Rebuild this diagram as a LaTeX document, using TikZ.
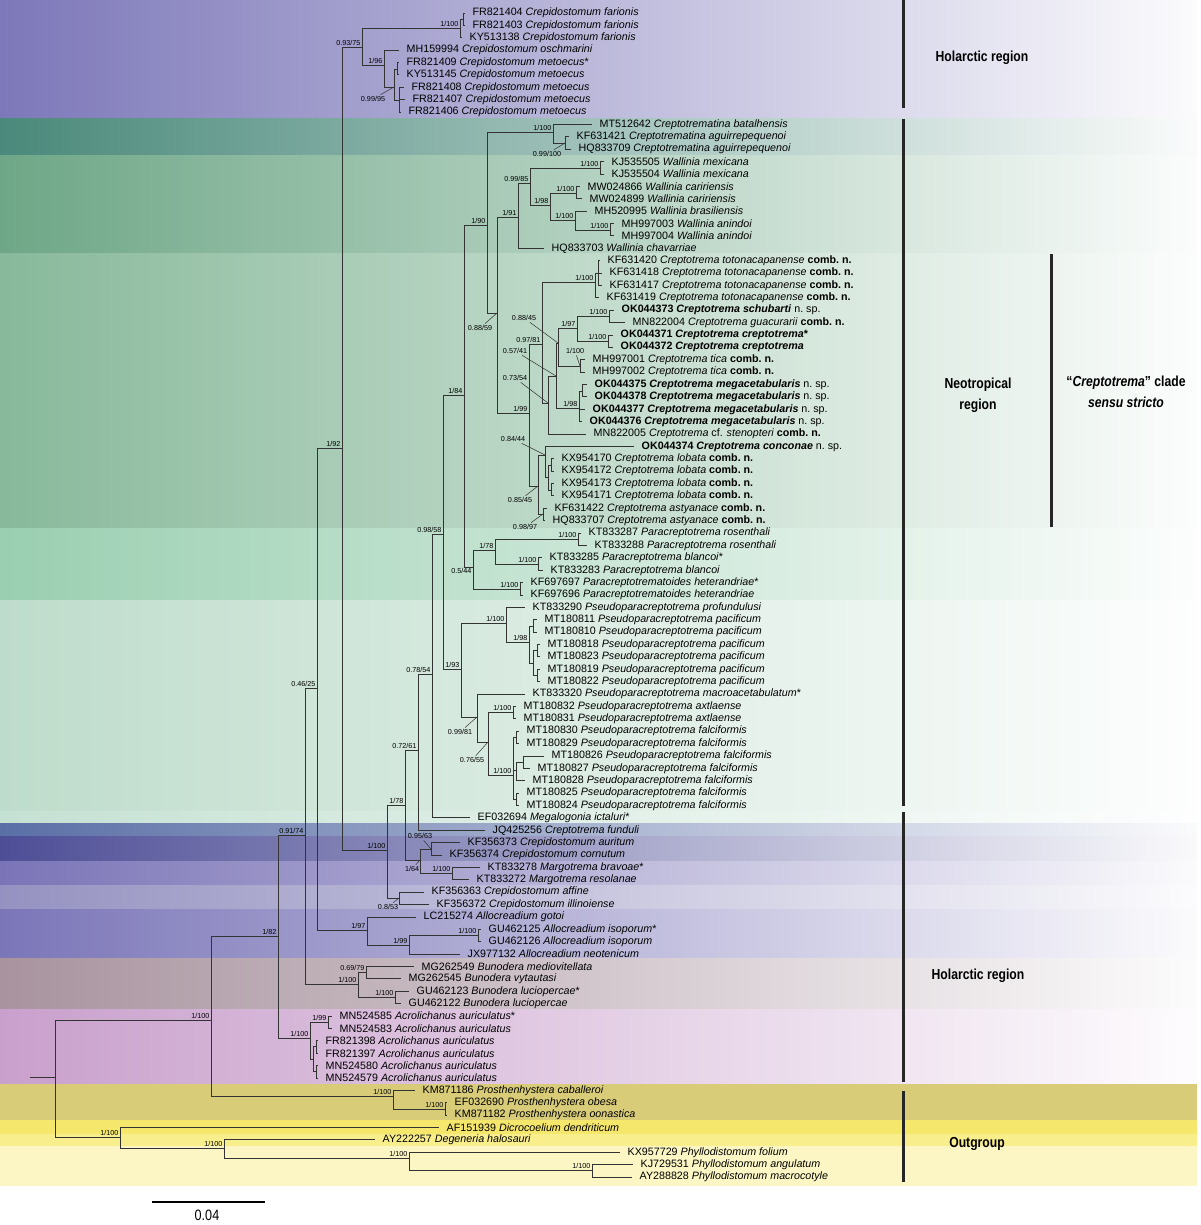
\documentclass[tikz,border=0pt]{standalone}
\usepackage{fontspec}
\setmainfont{Liberation Sans}
\newfontfamily\narrowfont[FakeStretch=0.84]{Liberation Sans}
\usetikzlibrary{positioning}

% band colours (left end)
\definecolor{bA}{HTML}{7D78B9}
\definecolor{bB}{HTML}{4A897B}
\definecolor{bC}{HTML}{6EA787}
\definecolor{bD}{HTML}{88B99B}
\definecolor{bE}{HTML}{9ACFB1}
\definecolor{bF}{HTML}{BEDCCB}
\definecolor{bG}{HTML}{C5E1D3}
\definecolor{bH}{HTML}{5A6FA6}
\definecolor{bI}{HTML}{4E4E97}
\definecolor{bJ}{HTML}{7B74B7}
\definecolor{bK}{HTML}{9592C1}
\definecolor{bL}{HTML}{7B76B8}
\definecolor{bM}{HTML}{A8939E}
\definecolor{bN}{HTML}{C9A0CC}
\definecolor{bO}{HTML}{D8CC78}
\definecolor{bP}{HTML}{F5E66C}
\definecolor{bQ}{HTML}{F9EE8C}
\definecolor{bR}{HTML}{FBF6C4}

\tikzset{
  br/.style={draw=black!80, line width=0.9pt},
  ptr/.style={draw=black!80, line width=0.5pt},
  leaf/.style={anchor=west, inner xsep=7.5pt, inner ysep=0.5pt, font=\fontsize{10.7}{12}\selectfont},
  bs/.style={inner sep=1.5pt, font=\fontsize{7.2}{8}\selectfont},
  region/.style={font=\narrowfont\bfseries\fontsize{14.5}{21}\selectfont, align=center},
  bar/.style={line width=3pt, draw=black!85},
}

\newcommand\leaf[4]{\node[leaf] (#1) at (#2,{13+12.383*#3}) {#4};}
\newcommand\band[3]{\shade[left color=#3, middle color=#3!58!white, right color=#3!3!white] (0,#1) rectangle (1197,#2);}
\newcommand\fband[3]{\fill[#3] (0,#1) rectangle (1197,#2);}
\newcommand\combn{\textbf{comb.\ n.}}
\newcommand\nsp{n.\ sp.}

\begin{document}
\begin{tikzpicture}[x=1pt, y=-1pt]
\useasboundingbox (0,0) rectangle (1200,1225);

% background bands
\band{0}{119}{bA}
\band{119}{156}{bB}
\band{156}{253}{bC}
\band{253}{528}{bD}
\band{528}{600}{bE}
\band{600}{811}{bF}
\band{811}{823}{bG}
\band{823}{836}{bH}
\band{836}{861}{bI}
\band{861}{885}{bJ}
\band{885}{909}{bK}
\band{909}{958}{bL}
\band{958}{1009}{bM}
\band{1009}{1084}{bN}
\fband{1084}{1120}{bO}
\fband{1120}{1134}{bP}
\fband{1134}{1146}{bQ}
\fband{1146}{1186}{bR}

% internal nodes
\coordinate (base) at (30,1077);
\coordinate (root) at (55,1077);
\coordinate (outg) at (120,1137);
\coordinate (deg) at (224,1148);
\coordinate (phy) at (409,1158);
\coordinate (phy2) at (592,1170);
\coordinate (ing) at (211,1020);
\coordinate (pros) at (393,1096);
\coordinate (pros2) at (445,1109);
\coordinate (n278) at (278,936);
\coordinate (acro) at (310,1038);
\coordinate (acro1) at (328,1022);
\coordinate (acro2) at (313,1059);
\coordinate (acro3) at (316,1046);
\coordinate (acro4) at (316,1071);
\coordinate (n305) at (305,835);
\coordinate (bun) at (358,984);
\coordinate (bun1) at (366,972);
\coordinate (bun2) at (395,997);
\coordinate (n317) at (317,688);
\coordinate (allo) at (367,930);
\coordinate (allo2) at (409,945);
\coordinate (allo3) at (478,935);
\coordinate (Q) at (342,448);
\coordinate (crep) at (362,47);
\coordinate (far) at (460,28);
\coordinate (far1) at (463,19);
\coordinate (met0) at (384,65);
\coordinate (met) at (394,87);
\coordinate (met1) at (397,69);
\coordinate (met2) at (399,100);
\coordinate (P) at (387,850);
\coordinate (n399) at (399,898);
\coordinate (n405) at (405,805);
\coordinate (n420) at (420,860);
\coordinate (n431) at (431,849);
\coordinate (marg) at (452,873);
\coordinate (n418) at (418,750);
\coordinate (n432) at (432,674);
\coordinate (n443) at (443,534);
\coordinate (n464) at (464,395);
\coordinate (n473) at (473,567);
\coordinate (n495) at (495,550);
\coordinate (ros) at (578,539);
\coordinate (bla) at (538,564);
\coordinate (pctd) at (520,589);
\coordinate (n462) at (461,669);
\coordinate (n506) at (506,623);
\coordinate (pac) at (529,642);
\coordinate (pac1) at (533,626);
\coordinate (pac2) at (533,663);
\coordinate (pac3) at (537,650);
\coordinate (pac4) at (537,675);
\coordinate (n477) at (477,717);
\coordinate (n488) at (488,742);
\coordinate (axt) at (513,712);
\coordinate (fal) at (513,775);
\coordinate (fal1) at (516,737);
\coordinate (fal2) at (516,770);
\coordinate (fal3) at (523,762);
\coordinate (fal4) at (516,799);
\coordinate (n487) at (487,225);
\coordinate (ctina) at (553,132);
\coordinate (ctina2) at (565,143);
\coordinate (n497) at (497,313);
\coordinate (wal) at (518,217);
\coordinate (n530) at (530,183);
\coordinate (mex) at (600,168);
\coordinate (n550) at (550,205);
\coordinate (car) at (576,193);
\coordinate (n575) at (575,220);
\coordinate (ani) at (610,230);
\coordinate (cs) at (529,413);
\coordinate (n542) at (542,344);
\coordinate (toto) at (595,282);
\coordinate (toto1) at (598,273);
\coordinate (n548) at (548,403);
\coordinate (n556) at (556,376);
\coordinate (n558) at (558,343);
\coordinate (n577) at (577,328);
\coordinate (sch) at (609,316);
\coordinate (crp) at (608,341);
\coordinate (tica) at (580,366);
\coordinate (mega) at (579,408);
\coordinate (mega1) at (582,391);
\coordinate (n538) at (538,486);
\coordinate (n545) at (545,455);
\coordinate (lob) at (548,477);
\coordinate (lob1) at (551,465);
\coordinate (lob2) at (551,490);
\coordinate (asty) at (543,514);

% leaves
\leaf{l0}{465}{0}{FR821404 \textit{Crepidostomum farionis}}
\leaf{l1}{465}{1}{FR821403 \textit{Crepidostomum farionis}}
\leaf{l2}{462}{2}{KY513138 \textit{Crepidostomum farionis}}
\leaf{l3}{399}{3}{MH159994 \textit{Crepidostomum oschmarini}}
\leaf{l4}{399}{4}{FR821409 \textit{Crepidostomum metoecus}*}
\leaf{l5}{399}{5}{KY513145 \textit{Crepidostomum metoecus}}
\leaf{l6}{404}{6}{FR821408 \textit{Crepidostomum metoecus}}
\leaf{l7}{405}{7}{FR821407 \textit{Crepidostomum metoecus}}
\leaf{l8}{401}{8}{FR821406 \textit{Crepidostomum metoecus}}
\leaf{l9}{592}{9}{MT512642 \textit{Creptotrematina batalhensis}}
\leaf{l10}{569}{10}{KF631421 \textit{Creptotrematina aguirrepequenoi}}
\leaf{l11}{571}{11}{HQ833709 \textit{Creptotrematina aguirrepequenoi}}
\leaf{l12}{604}{12}{KJ535505 \textit{Wallinia mexicana}}
\leaf{l13}{604}{13}{KJ535504 \textit{Wallinia mexicana}}
\leaf{l14}{580}{14}{MW024866 \textit{Wallinia caririensis}}
\leaf{l15}{582}{15}{MW024899 \textit{Wallinia caririensis}}
\leaf{l16}{587}{16}{MH520995 \textit{Wallinia brasiliensis}}
\leaf{l17}{614}{17}{MH997003 \textit{Wallinia anindoi}}
\leaf{l18}{614}{18}{MH997004 \textit{Wallinia anindoi}}
\leaf{l19}{544}{19}{HQ833703 \textit{Wallinia chavarriae}}
\leaf{l20}{600}{20}{KF631420 \textit{Creptotrema totonacapanense} \combn}
\leaf{l21}{602}{21}{KF631418 \textit{Creptotrema totonacapanense} \combn}
\leaf{l22}{602}{22}{KF631417 \textit{Creptotrema totonacapanense} \combn}
\leaf{l23}{599}{23}{KF631419 \textit{Creptotrema totonacapanense} \combn}
\leaf{l24}{614}{24}{\textbf{OK044373 \textit{Creptotrema schubarti}} \nsp}
\leaf{l25}{625}{25}{MN822004 \textit{Creptotrema guacurarii} \combn}
\leaf{l26}{613}{26}{\textbf{OK044371 \textit{Creptotrema creptotrema}*}}
\leaf{l27}{613}{27}{\textbf{OK044372 \textit{Creptotrema creptotrema}}}
\leaf{l28}{585}{28}{MH997001 \textit{Creptotrema tica} \combn}
\leaf{l29}{585}{29}{MH997002 \textit{Creptotrema tica} \combn}
\leaf{l30}{587}{30}{\textbf{OK044375 \textit{Creptotrema megacetabularis}} \nsp}
\leaf{l31}{587}{31}{\textbf{OK044378 \textit{Creptotrema megacetabularis}} \nsp}
\leaf{l32}{585}{32}{\textbf{OK044377 \textit{Creptotrema megacetabularis}} \nsp}
\leaf{l33}{582}{33}{\textbf{OK044376 \textit{Creptotrema megacetabularis}} \nsp}
\leaf{l34}{586}{34}{MN822005 \textit{Creptotrema} cf. \textit{stenopteri} \combn}
\leaf{l35}{634}{35}{\textbf{OK044374 \textit{Creptotrema conconae}} \nsp}
\leaf{l36}{554}{36}{KX954170 \textit{Creptotrema lobata} \combn}
\leaf{l37}{554}{37}{KX954172 \textit{Creptotrema lobata} \combn}
\leaf{l38}{554}{38}{KX954173 \textit{Creptotrema lobata} \combn}
\leaf{l39}{554}{39}{KX954171 \textit{Creptotrema lobata} \combn}
\leaf{l40}{547}{40}{KF631422 \textit{Creptotrema astyanace} \combn}
\leaf{l41}{545}{41}{HQ833707 \textit{Creptotrema astyanace} \combn}
\leaf{l42}{581}{42}{KT833287 \textit{Paracreptotrema rosenthali}}
\leaf{l43}{587}{43}{KT833288 \textit{Paracreptotrema rosenthali}}
\leaf{l44}{542}{44}{KT833285 \textit{Paracreptotrema blancoi}*}
\leaf{l45}{543}{45}{KT833283 \textit{Paracreptotrema blancoi}}
\leaf{l46}{523}{46}{KF697697 \textit{Paracreptotrematoides heterandriae}*}
\leaf{l47}{523}{47}{KF697696 \textit{Paracreptotrematoides heterandriae}}
\leaf{l48}{525}{48}{KT833290 \textit{Pseudoparacreptotrema profundulusi}}
\leaf{l49}{537}{49}{MT180811 \textit{Pseudoparacreptotrema pacificum}}
\leaf{l50}{537}{50}{MT180810 \textit{Pseudoparacreptotrema pacificum}}
\leaf{l51}{540}{51}{MT180818 \textit{Pseudoparacreptotrema pacificum}}
\leaf{l52}{540}{52}{MT180823 \textit{Pseudoparacreptotrema pacificum}}
\leaf{l53}{540}{53}{MT180819 \textit{Pseudoparacreptotrema pacificum}}
\leaf{l54}{540}{54}{MT180822 \textit{Pseudoparacreptotrema pacificum}}
\leaf{l55}{525}{55}{KT833320 \textit{Pseudoparacreptotrema macroacetabulatum}*}
\leaf{l56}{516}{56}{MT180832 \textit{Pseudoparacreptotrema axtlaense}}
\leaf{l57}{516}{57}{MT180831 \textit{Pseudoparacreptotrema axtlaense}}
\leaf{l58}{519}{58}{MT180830 \textit{Pseudoparacreptotrema falciformis}}
\leaf{l59}{519}{59}{MT180829 \textit{Pseudoparacreptotrema falciformis}}
\leaf{l60}{544}{60}{MT180826 \textit{Pseudoparacreptotrema falciformis}}
\leaf{l61}{530}{61}{MT180827 \textit{Pseudoparacreptotrema falciformis}}
\leaf{l62}{525}{62}{MT180828 \textit{Pseudoparacreptotrema falciformis}}
\leaf{l63}{519}{63}{MT180825 \textit{Pseudoparacreptotrema falciformis}}
\leaf{l64}{519}{64}{MT180824 \textit{Pseudoparacreptotrema falciformis}}
\leaf{l65}{470}{65}{EF032694 \textit{Megalogonia ictaluri}*}
\leaf{l66}{485}{66}{JQ425256 \textit{Creptotrema funduli}}
\leaf{l67}{460}{67}{KF356373 \textit{Crepidostomum auritum}}
\leaf{l68}{442}{68}{KF356374 \textit{Crepidostomum cornutum}}
\leaf{l69}{480}{69}{KT833278 \textit{Margotrema bravoae}*}
\leaf{l70}{469}{70}{KT833272 \textit{Margotrema resolanae}}
\leaf{l71}{424}{71}{KF356363 \textit{Crepidostomum affine}}
\leaf{l72}{429}{72}{KF356372 \textit{Crepidostomum illinoiense}}
\leaf{l73}{416}{73}{LC215274 \textit{Allocreadium gotoi}}
\leaf{l74}{481}{74}{GU462125 \textit{Allocreadium isoporum}*}
\leaf{l75}{481}{75}{GU462126 \textit{Allocreadium isoporum}}
\leaf{l76}{460}{76}{JX977132 \textit{Allocreadium neotenicum}}
\leaf{l77}{414}{77}{MG262549 \textit{Bunodera mediovitellata}}
\leaf{l78}{401}{78}{MG262545 \textit{Bunodera vytautasi}}
\leaf{l79}{409}{79}{GU462123 \textit{Bunodera luciopercae}*}
\leaf{l80}{401}{80}{GU462122 \textit{Bunodera luciopercae}}
\leaf{l81}{332}{81}{MN524585 \textit{Acrolichanus auriculatus}*}
\leaf{l82}{332}{82}{MN524583 \textit{Acrolichanus auriculatus}}
\leaf{l83}{318}{83}{FR821398 \textit{Acrolichanus auriculatus}}
\leaf{l84}{318}{84}{FR821397 \textit{Acrolichanus auriculatus}}
\leaf{l85}{318}{85}{MN524580 \textit{Acrolichanus auriculatus}}
\leaf{l86}{318}{86}{MN524579 \textit{Acrolichanus auriculatus}}
\leaf{l87}{415}{87}{KM871186 \textit{Prosthenhystera caballeroi}}
\leaf{l88}{447}{88}{EF032690 \textit{Prosthenhystera obesa}}
\leaf{l89}{447}{89}{KM871182 \textit{Prosthenhystera oonastica}}
\leaf{l90}{439}{90}{AF151939 \textit{Dicrocoelium dendriticum}}
\leaf{l91}{375}{91}{AY222257 \textit{Degeneria halosauri}}
\leaf{l92}{620}{92}{KX957729 \textit{Phyllodistomum folium}}
\leaf{l93}{633}{93}{KJ729531 \textit{Phyllodistomum angulatum}}
\leaf{l94}{632}{94}{AY288828 \textit{Phyllodistomum macrocotyle}}

% root and outgroup
\draw[br] (base) -- (root);
\draw[br] (root) |- (ing) (root) |- (outg);
\draw[br] (outg) |- (l90.west) (outg) |- (deg);
\draw[br] (deg) |- (l91.west) (deg) |- (phy);
\draw[br] (phy) |- (l92.west) (phy) |- (phy2);
\draw[br] (phy2) |- (l93.west) (phy2) |- (l94.west);

% ingroup, lower part
\draw[br] (ing) |- (n278) (ing) |- (pros);
\draw[br] (pros) |- (l87.west) (pros) |- (pros2);
\draw[br] (pros2) |- (l88.west) (pros2) |- (l89.west);
\draw[br] (n278) |- (n305) (n278) |- (acro);
\draw[br] (acro) |- (acro1) (acro) |- (acro2);
\draw[br] (acro1) |- (l81.west) (acro1) |- (l82.west);
\draw[br] (acro2) |- (acro3) (acro2) |- (acro4);
\draw[br] (acro3) |- (l83.west) (acro3) |- (l84.west);
\draw[br] (acro4) |- (l85.west) (acro4) |- (l86.west);
\draw[br] (n305) |- (n317) (n305) |- (bun);
\draw[br] (bun) |- (bun1) (bun) |- (bun2);
\draw[br] (bun1) |- (l77.west) (bun1) |- (l78.west);
\draw[br] (bun2) |- (l79.west) (bun2) |- (l80.west);
\draw[br] (n317) |- (Q) (n317) |- (allo);
\draw[br] (allo) |- (l73.west) (allo) |- (allo2);
\draw[br] (allo2) |- (allo3) (allo2) |- (l76.west);
\draw[br] (allo3) |- (l74.west) (allo3) |- (l75.west);

% Crepidostomum (top)
\draw[br] (Q) |- (crep) (Q) |- (P);
\draw[br] (crep) |- (far) (crep) |- (met0);
\draw[br] (far) |- (far1) (far) |- (l2.west);
\draw[br] (far1) |- (l0.west) (far1) |- (l1.west);
\draw[br] (met0) |- (l3.west) (met0) |- (met);
\draw[br] (met) |- (met1) (met) |- (met2);
\draw[br] (met1) |- (l4.west) (met1) |- (l5.west);
\draw[br] (met2) |- (l6.west) (met2) |- (l7.west) (met2) |- (l8.west);

% Crepidostomum, Margotrema, Creptotrema funduli
\draw[br] (P) |- (n405) (P) |- (n399);
\draw[br] (n399) |- (l71.west) (n399) |- (l72.west);
\draw[br] (n405) |- (n418) (n405) |- (n420);
\draw[br] (n420) |- (n431) (n420) |- (marg);
\draw[br] (n431) |- (l67.west) (n431) |- (l68.west);
\draw[br] (marg) |- (l69.west) (marg) |- (l70.west);
\draw[br] (n418) |- (n432) (n418) |- (l66.west);
\draw[br] (n432) |- (n443) (n432) |- (l65.west);
\draw[br] (n443) |- (n464) (n443) |- (n462);

% Paracreptotrema, Paracreptotrematoides
\draw[br] (n464) |- (n487) (n464) |- (n473);
\draw[br] (n473) |- (n495) (n473) |- (pctd);
\draw[br] (n495) |- (ros) (n495) |- (bla);
\draw[br] (ros) |- (l42.west) (ros) |- (l43.west);
\draw[br] (bla) |- (l44.west) (bla) |- (l45.west);
\draw[br] (pctd) |- (l46.west) (pctd) |- (l47.west);

% Pseudoparacreptotrema
\draw[br] (n462) |- (n506) (n462) |- (n477);
\draw[br] (n506) |- (l48.west) (n506) |- (pac);
\draw[br] (pac) |- (pac1) (pac) |- (pac2);
\draw[br] (pac1) |- (l49.west) (pac1) |- (l50.west);
\draw[br] (pac2) |- (pac3) (pac2) |- (pac4);
\draw[br] (pac3) |- (l51.west) (pac3) |- (l52.west);
\draw[br] (pac4) |- (l53.west) (pac4) |- (l54.west);
\draw[br] (n477) |- (l55.west) (n477) |- (n488);
\draw[br] (n488) |- (axt) (n488) |- (fal);
\draw[br] (axt) |- (l56.west) (axt) |- (l57.west);
\draw[br] (fal) |- (fal1) (fal) |- (fal2) (fal) |- (fal4);
\draw[br] (fal1) |- (l58.west) (fal1) |- (l59.west);
\draw[br] (fal2) |- (fal3) (fal2) |- (l62.west);
\draw[br] (fal3) |- (l60.west) (fal3) |- (l61.west);
\draw[br] (fal4) |- (l63.west) (fal4) |- (l64.west);

% Creptotrematina, Wallinia
\draw[br] (n487) |- (ctina) (n487) |- (n497);
\draw[br] (ctina) |- (l9.west) (ctina) |- (ctina2);
\draw[br] (ctina2) |- (l10.west) (ctina2) |- (l11.west);
\draw[br] (n497) |- (wal) (n497) |- (cs);
\draw[br] (wal) |- (n530) (wal) |- (l19.west);
\draw[br] (n530) |- (mex) (n530) |- (n550);
\draw[br] (mex) |- (l12.west) (mex) |- (l13.west);
\draw[br] (n550) |- (car) (n550) |- (n575);
\draw[br] (car) |- (l14.west) (car) |- (l15.west);
\draw[br] (n575) |- (l16.west) (n575) |- (ani);
\draw[br] (ani) |- (l17.west) (ani) |- (l18.west);

% Creptotrema sensu stricto
\draw[br] (cs) |- (n542) (cs) |- (n538);
\draw[br] (n542) |- (toto) (n542) |- (n548);
\draw[br] (toto) |- (toto1) (toto) |- (l23.west);
\draw[br] (toto1) |- (l20.west) (toto1) |- (l21.west) (toto1) |- (l22.west);
\draw[br] (n548) |- (n556) (n548) |- (l34.west);
\draw[br] (n556) |- (n558) (n556) |- (mega);
\draw[br] (n558) |- (n577) (n558) |- (tica);
\draw[br] (n577) |- (sch) (n577) |- (crp);
\draw[br] (sch) |- (l24.west) (sch) |- (l25.west);
\draw[br] (crp) |- (l26.west) (crp) |- (l27.west);
\draw[br] (tica) |- (l28.west) (tica) |- (l29.west);
\draw[br] (mega) |- (mega1) (mega) |- (l32.west) (mega) |- (l33.west);
\draw[br] (mega1) |- (l30.west) (mega1) |- (l31.west);
\draw[br] (n538) |- (n545) (n538) |- (asty);
\draw[br] (n545) |- (l35.west) (n545) |- (lob);
\draw[br] (lob) |- (lob1) (lob) |- (lob2);
\draw[br] (lob1) |- (l36.west) (lob1) |- (l37.west);
\draw[br] (lob2) |- (l38.west) (lob2) |- (l39.west);
\draw[br] (asty) |- (l40.west) (asty) |- (l41.west);

% support values
\foreach \n/\t in {crep/{0.93/75}, far/{1/100}, met0/{1/96}, ctina/{1/100}, mex/{1/100},
  n530/{0.99/85}, car/{1/100}, n550/{1/98}, wal/{1/91}, n575/{1/100}, ani/{1/100},
  n487/{1/90}, toto/{1/100}, n577/{1/97}, sch/{1/100}, crp/{1/100}, n542/{0.97/81},
  mega/{1/98}, cs/{1/99}, n464/{1/84}, n443/{0.98/58}, n495/{1/78}, ros/{1/100},
  bla/{1/100}, pctd/{1/100}, n506/{1/100}, pac/{1/98}, n462/{1/93}, n432/{0.78/54},
  axt/{1/100}, fal/{1/100}, n418/{0.72/61}, n405/{1/78}, n305/{0.91/74}, P/{1/100},
  marg/{1/100}, allo/{1/97}, n278/{1/82}, allo3/{1/100}, allo2/{1/99}, bun1/{0.69/79},
  bun/{1/100}, bun2/{1/100}, ing/{1/100}, acro1/{1/99}, acro/{1/100}, pros/{1/100},
  pros2/{1/100}, outg/{1/100}, deg/{1/100}, phy/{1/100}, phy2/{1/100}, n317/{0.46/25},
  Q/{1/92}}
  \node[bs, above left=0pt of \n] (s-\n) {\t};
\node[bs, below left=0pt of n473] (s-n473) {0.5/44};

% support values with a pointer
\foreach \n/\x/\y/\t in {met/373/99/{0.99/95}, ctina2/547/154/{0.99/100}, n497/480/328/{0.88/59},
  n558/524/318/{0.88/45}, tica/575/351/{1/100}, n556/515/351/{0.57/41}, n548/515/378/{0.73/54},
  n545/513/439/{0.84/44}, n538/520/500/{0.85/45}, asty/525/527/{0.98/97}, n477/460/732/{0.99/81},
  n488/472/760/{0.76/55}, n431/420/836/{0.95/63}, n420/412/869/{1/64}, n399/388/907/{0.8/53}}{
  \node[bs] (s-\n) at (\x,\y) {\t};
  \draw[ptr] (s-\n) -- (\n);
}

% region bars
\draw[bar] (903,0) -- (903,108);
\draw[bar] (903,119) -- (903,806);
\draw[bar] (903,812) -- (903,1082);
\draw[bar] (903,1091) -- (903,1182);
\draw[bar] (1051,254) -- (1051,527);

% region labels
\node[region] (hol1) at (982,58) {Holarctic region};
\node[region] (neo) at (978,395) {Neotropical\\region};
\node[region] (crcl) at (1126,392) {“\textit{Creptotrema}” clade\\\textit{sensu stricto}};
\node[region] (hol2) at (978,976) {Holarctic region};
\node[region] (outl) at (977,1144) {Outgroup};

% scale bar
\coordinate (sb1) at (152,1202);
\coordinate (sb2) at (265,1202);
\draw[line width=1.5pt] (sb1) -- (sb2);
\node[font=\narrowfont\fontsize{15}{16}\selectfont, inner sep=1pt] (sbl) at (207,1215) {0.04};
\end{tikzpicture}
\end{document}
